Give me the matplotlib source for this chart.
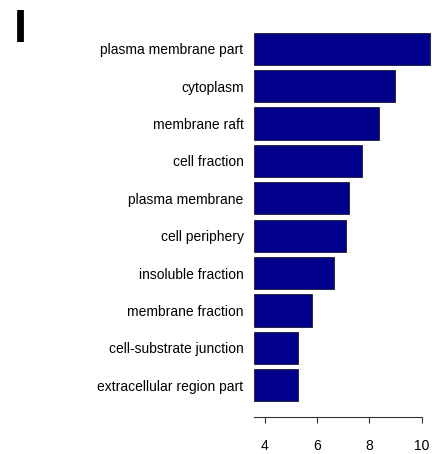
import matplotlib.pyplot as plt

plt.rcParams["font.family"] = ["Liberation Sans", "DejaVu Sans"]

# GO terms, top to bottom
TERMS = [
    "plasma membrane part",
    "cytoplasm",
    "membrane raft",
    "cell fraction",
    "plasma membrane",
    "cell periphery",
    "insoluble fraction",
    "membrane fraction",
    "cell-substrate junction",
    "extracellular region part",
]
SCORES = [10.32, 8.97, 8.36, 7.72, 7.22, 7.10, 6.66, 5.82, 5.28, 5.28]
X_TICKS = [4, 6, 8, 10]
X_MIN = 3.59

fig = plt.figure(figsize=(4.32, 4.54), dpi=100)
W, H = 432, 454
ax = fig.add_axes([254 / W, 1 - 404 / H, (432 - 254) / W, (404 - 30) / H])

ypos = list(range(len(TERMS)))
ax.barh(ypos, [s - X_MIN for s in SCORES], left=X_MIN, height=0.86,
        color="#00008b", edgecolor="#1a1a2e", linewidth=0.6)

ax.set_ylim(len(TERMS) - 0.5, -0.5)
ax.set_xlim(X_MIN, 10.4)
ax.set_yticks(ypos)
ax.set_yticklabels(TERMS, fontsize=10)
ax.tick_params(axis="y", length=0, pad=7.5)

ax.set_xticks(X_TICKS)
ax.set_xticklabels([str(t) for t in X_TICKS], fontsize=10)
ax.tick_params(axis="x", length=4, pad=12, color="#333333")

for side in ("top", "right", "left"):
    ax.spines[side].set_visible(False)
ax.spines["bottom"].set_position(("outward", 9))
ax.spines["bottom"].set_bounds(X_MIN, 10)
ax.spines["bottom"].set_color("#333333")

# panel letter
fig.text(14 / W, 1 - 42 / H, "I", fontsize=34, fontweight="bold", ha="left", va="baseline")

fig.savefig("out.png", dpi=100)
